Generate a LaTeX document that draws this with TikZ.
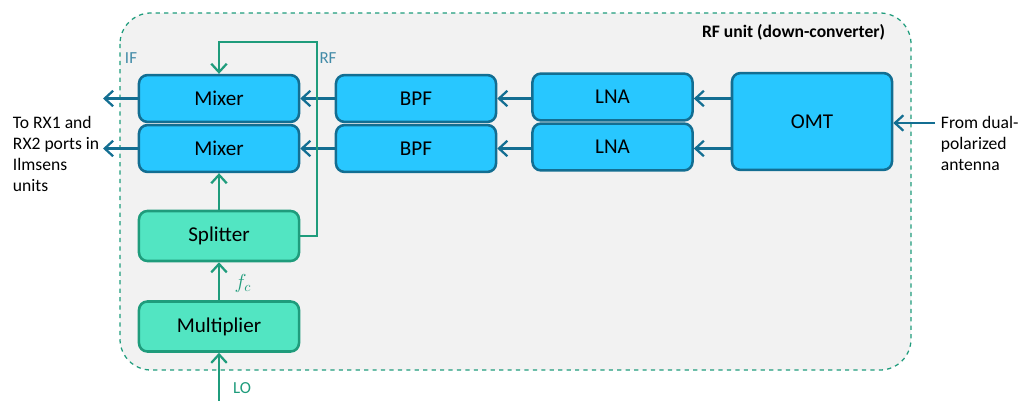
\documentclass[tikz,border=0pt]{standalone}
\usepackage{fontspec}
\setmainfont{Carlito}
\usetikzlibrary{arrows.meta}

\definecolor{rfblue}{HTML}{28C7FF}
\definecolor{rfedge}{HTML}{136E92}
\definecolor{lofill}{HTML}{52E5C2}
\definecolor{loedge}{HTML}{1F9C7C}
\definecolor{unitbg}{HTML}{F2F2F2}

\begin{document}
\begin{tikzpicture}[x=0.025cm, y=-0.025cm,
		rfbox/.style={draw=rfedge, line width=1.8pt, fill=rfblue, rounded corners=6pt,
			minimum width=4cm, minimum height=1.17cm, font=\fontsize{15}{17}\selectfont},
		lobox/.style={draw=loedge, line width=1.8pt, fill=lofill, rounded corners=6pt,
			minimum width=4cm, minimum height=1.25cm, font=\fontsize{15}{17}\selectfont},
		rfarr/.style={draw=rfedge, line width=1.6pt, -{Straight Barb[length=6pt, width=11pt, line width=1.6pt]}},
		loarr/.style={draw=loedge, line width=1.6pt, -{Straight Barb[length=6pt, width=11pt, line width=1.6pt]}},
		side/.style={align=left, anchor=north west, font=\fontsize{12.5}{15}\selectfont}]

				\useasboundingbox (0,0) rectangle (1021,401);

				% the down-converter unit
				\draw [draw=loedge, fill=unitbg, line width=0.9pt, dashed, rounded corners=22pt] (120,13) rectangle (911,370);
				\node [anchor=east, font=\fontsize{12.5}{14}\selectfont\bfseries] (title) at (890,32) {RF unit (down-converter)};

				\node [rfbox] (mix1) at (219,98.5) {Mixer};
				\node [rfbox] (mix2) at (219,148.5) {Mixer};
				\node [rfbox] (bpf1) at (416,98.5) {BPF};
				\node [rfbox] (bpf2) at (416,148.5) {BPF};
				\node [rfbox] (lna1) at (612.5,97) {LNA};
				\node [rfbox] (lna2) at (612.5,147) {LNA};
				\node [rfbox, minimum height=2.42cm] (omt) at (812,121.5) {OMT};

				\node [lobox] (split) at (219,236) {Splitter};
				\node [lobox] (mult) at (219,326.5) {Multiplier};

				% signal path
				\coordinate (ant) at (935,123);
				\coordinate (out1) at (103,98.5);
				\coordinate (out2) at (103,148.5);
				\draw [rfarr] (ant) -- (omt.east |- ant);
				\draw [rfarr] (omt.west |- bpf1) -- (lna1.east |- bpf1);
				\draw [rfarr] (omt.west |- bpf2) -- (lna2.east |- bpf2);
				\draw [rfarr] (lna1.west |- bpf1) -- (bpf1);
				\draw [rfarr] (lna2.west |- bpf2) -- (bpf2);
				\draw [rfarr] (bpf1) -- (mix1);
				\draw [rfarr] (bpf2) -- (mix2);
				\draw [rfarr] (mix1) -- (out1);
				\draw [rfarr] (mix2) -- (out2);

				% local oscillator path
				\coordinate (lo) at (219,401);
				\coordinate (bend) at (317,42);
				\draw [loarr] (lo) -- (mult);
				\draw [loarr] (mult) -- (split);
				\draw [loarr] (split) -- (mix2);
				\draw [loarr] (split.east) -| (bend) -| (mix1.north);

				\node [text=rfedge!80!white, font=\fontsize{12}{14}\selectfont] (iflab) at (131,58) {IF};
				\node [text=rfedge!80!white, font=\fontsize{12}{14}\selectfont] (rflab) at (328,58) {RF};
				\node [text=loedge, font=\fontsize{12}{14}\selectfont] (lolab) at (242,388) {LO};
				\node [text=loedge, font=\fontsize{14}{16}\selectfont] (fclab) at (243,283) {$f_c$};

				\node [side] (dest) at (8,111) {To RX1 and\\RX2 ports in\\Ilmsens\\units};
				\node [side] (src) at (936,111) {From dual-\\polarized\\antenna};

		\end{tikzpicture}
\end{document}
